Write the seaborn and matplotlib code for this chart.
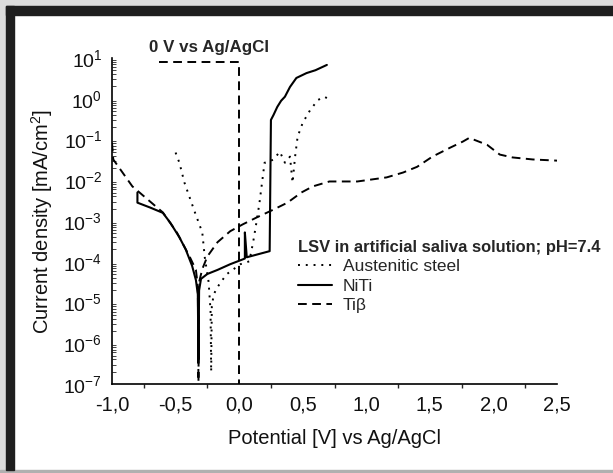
import matplotlib
matplotlib.use("Agg")
import matplotlib.pyplot as plt
import matplotlib.patches as mpatches
import matplotlib.ticker as mticker
import numpy as np
import pandas as pd
import seaborn as sns

# ---- data ----
niti_v = [-0.80, -0.80, -0.70, -0.60, -0.54, -0.47, -0.42, -0.37, -0.34, -0.325, -0.32, -0.315,
          -0.30, -0.25, -0.17, -0.07, 0.03, 0.045, 0.045, 0.06, 0.24, 0.25, 0.27, 0.30, 0.33,
          0.36, 0.40, 0.45, 0.53, 0.60, 0.69]
niti_logj = [-2.30, -2.55, -2.67, -2.80, -3.05, -3.40, -3.70, -4.10, -4.45, -4.80, -6.40, -4.70,
             -4.42, -4.30, -4.20, -4.06, -3.94, -3.92, -3.28, -3.89, -3.74, -0.52, -0.40, -0.20, -0.05,
             0.05, 0.29, 0.51, 0.63, 0.70, 0.83]

steel_v = [-0.50, -0.47, -0.43, -0.35, -0.29, -0.27, -0.24, -0.225, -0.22, -0.215, -0.20,
           -0.17, -0.10, 0.01, 0.08, 0.11, 0.14, 0.16, 0.18, 0.20, 0.23, 0.27, 0.32, 0.36, 0.40,
           0.42, 0.44, 0.46, 0.50, 0.56, 0.62, 0.67, 0.70]
steel_logj = [-1.32, -1.57, -2.06, -2.77, -3.28, -3.90, -4.50, -5.20, -6.70, -5.10, -4.80,
              -4.62, -4.31, -4.06, -3.99, -3.52, -2.96, -2.55, -2.06, -1.57, -1.55, -1.49, -1.30, -1.57,
              -1.42, -2.06, -1.42, -0.93, -0.59, -0.27, -0.03, 0.05, 0.00]

tib_v = [-1.00, -0.99, -0.84, -0.60, -0.49, -0.39, -0.34, -0.325, -0.32, -0.315, -0.29, -0.25,
         -0.17, -0.07, 0.03, 0.14, 0.27, 0.38, 0.49, 0.58, 0.71, 0.93, 1.16, 1.29, 1.40, 1.52,
         1.66, 1.76, 1.81, 1.95, 2.05, 2.15, 2.31, 2.51]
tib_logj = [-1.08, -1.49, -2.15, -2.79, -3.28, -3.87, -4.20, -4.60, -6.95, -4.50, -4.18, -3.87,
            -3.52, -3.25, -3.08, -2.91, -2.72, -2.55, -2.30, -2.15, -2.03, -2.03, -1.93, -1.81, -1.67,
            -1.42, -1.20, -1.05, -0.96, -1.13, -1.37, -1.44, -1.49, -1.52]

marker_v = [-0.63, 0.0, 0.0]
marker_j = [8.0, 8.0, 1e-7]

series_names = ["Austenitic steel", "NiTi", "Ti\u03b2"]
x_ticks = [-1.0, -0.5, 0.0, 0.5, 1.0, 1.5, 2.0, 2.5]
y_exps = [-7, -6, -5, -4, -3, -2, -1, 0, 1]

# ---- figure ----
sns.set_theme(style="white")
plt.rcParams["font.family"] = ["Liberation Sans", "DejaVu Sans"]
plt.rcParams["mathtext.fontset"] = "custom"
plt.rcParams["mathtext.rm"] = "Liberation Sans"
plt.rcParams["mathtext.it"] = "Liberation Sans:italic"
plt.rcParams["mathtext.bf"] = "Liberation Sans:bold"

fig = plt.figure(figsize=(6.13, 4.73), dpi=100)
fig.patch.set_facecolor("white")

# frame of the screenshot
W, H = 613, 473
def frect(x0, y0, w, h, color):
    fig.patches.append(mpatches.Rectangle((x0 / W, 1 - (y0 + h) / H), w / W, h / H,
                                          transform=fig.transFigure, color=color, zorder=0))
frect(0, 0, W, 6, "#dcdcdc")
frect(0, 0, 6, H, "#dcdcdc")
frect(0, H - 3, W, 3, "#b0b0b0")
frect(6, 6, W - 6, 9, "#1e1e1e")
frect(6, 6, 8, H - 9, "#1e1e1e")

ax = fig.add_axes([112 / W, 1 - 384 / H, (557 - 112) / W, (384 - 58) / H])
ax.set_facecolor("none")

df_steel = pd.DataFrame({"V": steel_v, "j": np.power(10.0, steel_logj)})
df_niti = pd.DataFrame({"V": niti_v, "j": np.power(10.0, niti_logj)})
df_tib = pd.DataFrame({"V": tib_v, "j": np.power(10.0, tib_logj)})

dot_style = (0, (1, 3))
dash_style = (0, (4.5, 2.8))
sns.lineplot(data=df_steel, x="V", y="j", sort=False, estimator=None, ax=ax, color="black",
             lw=1.4, linestyle=dot_style, label=series_names[0])
sns.lineplot(data=df_niti, x="V", y="j", sort=False, estimator=None, ax=ax, color="black",
             lw=1.5, linestyle="-", label=series_names[1])
sns.lineplot(data=df_tib, x="V", y="j", sort=False, estimator=None, ax=ax, color="black",
             lw=1.4, linestyle=dash_style, label=series_names[2])
sns.lineplot(x=marker_v, y=marker_j, sort=False, estimator=None, ax=ax, color="black",
             lw=1.4, linestyle=dash_style, legend=False)

ax.set_yscale("log")
ax.set_xlim(-1.0, 2.5)
ax.set_ylim(1e-7, 10)

ax.set_xticks(x_ticks)
ax.set_xticklabels([f"{t:.1f}".replace(".", ",") for t in x_ticks])
ax.xaxis.set_minor_locator(mticker.MultipleLocator(0.25))
ax.set_yticks([10.0 ** e for e in y_exps])
ax.set_yticklabels([f"$10^{{{e}}}$" for e in y_exps])
ax.yaxis.set_minor_locator(mticker.LogLocator(base=10, subs=np.arange(2, 10), numticks=20))
ax.yaxis.set_minor_formatter(mticker.NullFormatter())

ax.tick_params(axis="x", which="major", direction="out", length=5, width=1, labelsize=14.5, pad=3, colors="black")
ax.tick_params(axis="x", which="minor", direction="out", length=3, width=1, bottom=True)
ax.tick_params(axis="y", which="major", direction="out", length=5, width=1, labelsize=14, pad=2, colors="black")
ax.tick_params(axis="y", which="minor", direction="in", length=3, width=0.6, left=True)
for lbl in ax.get_xticklabels() + ax.get_yticklabels():
    lbl.set_color("#111111")

for s in ["top", "right"]:
    ax.spines[s].set_visible(False)
for s in ["left", "bottom"]:
    ax.spines[s].set_color("black")
    ax.spines[s].set_linewidth(1.2)

ax.set_xlabel("Potential [V] vs Ag/AgCl", fontsize=14.5, labelpad=11, color="#111111")
ax.set_ylabel("Current density [mA/cm$^2$]", fontsize=14.5, labelpad=6, color="#111111")

ax.text(-0.24, 18, "0 V vs Ag/AgCl", fontsize=12.2, fontweight="bold", ha="center", va="center")

leg = ax.legend(title="LSV in artificial saliva solution; pH=7.4", loc="upper left",
                bbox_to_anchor=(0.39, 0.48), frameon=False, fontsize=12.5,
                handlelength=2.0, handletextpad=0.6, labelspacing=0.25, borderpad=0.2,
                alignment="left")
leg.get_title().set_fontweight("bold")
leg.get_title().set_fontsize(11.9)

fig.savefig("out.png", dpi=100)
